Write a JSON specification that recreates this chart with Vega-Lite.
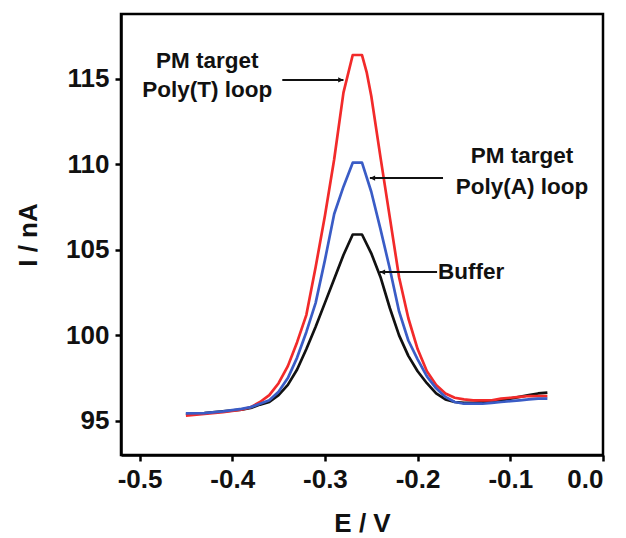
{
  "$schema": "https://vega.github.io/schema/vega-lite/v6.json",
  "autosize": "none",
  "width": 482,
  "height": 441,
  "padding": {"left": 121, "top": 14, "right": 23, "bottom": 83},
  "background": "white",
  "config": {
    "view": {"stroke": "black", "strokeWidth": 2.5},
    "font": "Liberation Sans",
    "axis": {
      "grid": false,
      "domainColor": "black",
      "domainWidth": 2.5,
      "tickColor": "black",
      "tickWidth": 2.5,
      "tickSize": 6,
      "labelFont": "Liberation Sans",
      "labelFontWeight": "bold",
      "labelFontSize": 26,
      "labelColor": "#111",
      "titleFont": "Liberation Sans",
      "titleFontWeight": "bold",
      "titleFontSize": 26,
      "titleColor": "#111"
    }
  },
  "datasets": {
    "curves": [
      {"E": -0.45, "I": 95.4, "s": "Buffer"},
      {"E": -0.43, "I": 95.45, "s": "Buffer"},
      {"E": -0.41, "I": 95.55, "s": "Buffer"},
      {"E": -0.39, "I": 95.65, "s": "Buffer"},
      {"E": -0.38, "I": 95.75, "s": "Buffer"},
      {"E": -0.37, "I": 95.95, "s": "Buffer"},
      {"E": -0.36, "I": 96.1, "s": "Buffer"},
      {"E": -0.35, "I": 96.5, "s": "Buffer"},
      {"E": -0.34, "I": 97.1, "s": "Buffer"},
      {"E": -0.33, "I": 98.0, "s": "Buffer"},
      {"E": -0.32, "I": 99.2, "s": "Buffer"},
      {"E": -0.31, "I": 100.5, "s": "Buffer"},
      {"E": -0.30, "I": 101.9, "s": "Buffer"},
      {"E": -0.29, "I": 103.3, "s": "Buffer"},
      {"E": -0.28, "I": 104.7, "s": "Buffer"},
      {"E": -0.27, "I": 105.9, "s": "Buffer"},
      {"E": -0.26, "I": 105.9, "s": "Buffer"},
      {"E": -0.25, "I": 104.8, "s": "Buffer"},
      {"E": -0.24, "I": 103.4, "s": "Buffer"},
      {"E": -0.23, "I": 101.6, "s": "Buffer"},
      {"E": -0.22, "I": 100.0, "s": "Buffer"},
      {"E": -0.21, "I": 98.8, "s": "Buffer"},
      {"E": -0.20, "I": 97.9, "s": "Buffer"},
      {"E": -0.19, "I": 97.2, "s": "Buffer"},
      {"E": -0.18, "I": 96.6, "s": "Buffer"},
      {"E": -0.17, "I": 96.25, "s": "Buffer"},
      {"E": -0.16, "I": 96.1, "s": "Buffer"},
      {"E": -0.15, "I": 96.05, "s": "Buffer"},
      {"E": -0.14, "I": 96.05, "s": "Buffer"},
      {"E": -0.13, "I": 96.1, "s": "Buffer"},
      {"E": -0.12, "I": 96.1, "s": "Buffer"},
      {"E": -0.11, "I": 96.2, "s": "Buffer"},
      {"E": -0.10, "I": 96.3, "s": "Buffer"},
      {"E": -0.09, "I": 96.4, "s": "Buffer"},
      {"E": -0.08, "I": 96.5, "s": "Buffer"},
      {"E": -0.07, "I": 96.6, "s": "Buffer"},
      {"E": -0.06, "I": 96.65, "s": "Buffer"},

      {"E": -0.45, "I": 95.3, "s": "PolyT"},
      {"E": -0.43, "I": 95.4, "s": "PolyT"},
      {"E": -0.41, "I": 95.5, "s": "PolyT"},
      {"E": -0.39, "I": 95.65, "s": "PolyT"},
      {"E": -0.38, "I": 95.8, "s": "PolyT"},
      {"E": -0.37, "I": 96.1, "s": "PolyT"},
      {"E": -0.36, "I": 96.5, "s": "PolyT"},
      {"E": -0.35, "I": 97.2, "s": "PolyT"},
      {"E": -0.34, "I": 98.2, "s": "PolyT"},
      {"E": -0.33, "I": 99.6, "s": "PolyT"},
      {"E": -0.32, "I": 101.2, "s": "PolyT"},
      {"E": -0.31, "I": 104.0, "s": "PolyT"},
      {"E": -0.30, "I": 107.0, "s": "PolyT"},
      {"E": -0.29, "I": 110.3, "s": "PolyT"},
      {"E": -0.28, "I": 114.2, "s": "PolyT"},
      {"E": -0.27, "I": 116.4, "s": "PolyT"},
      {"E": -0.26, "I": 116.4, "s": "PolyT"},
      {"E": -0.255, "I": 115.4, "s": "PolyT"},
      {"E": -0.25, "I": 114.0, "s": "PolyT"},
      {"E": -0.24, "I": 110.4, "s": "PolyT"},
      {"E": -0.23, "I": 106.9, "s": "PolyT"},
      {"E": -0.22, "I": 103.4, "s": "PolyT"},
      {"E": -0.21, "I": 101.0, "s": "PolyT"},
      {"E": -0.20, "I": 99.2, "s": "PolyT"},
      {"E": -0.19, "I": 97.9, "s": "PolyT"},
      {"E": -0.18, "I": 97.1, "s": "PolyT"},
      {"E": -0.17, "I": 96.6, "s": "PolyT"},
      {"E": -0.16, "I": 96.35, "s": "PolyT"},
      {"E": -0.15, "I": 96.25, "s": "PolyT"},
      {"E": -0.14, "I": 96.2, "s": "PolyT"},
      {"E": -0.13, "I": 96.2, "s": "PolyT"},
      {"E": -0.12, "I": 96.2, "s": "PolyT"},
      {"E": -0.11, "I": 96.3, "s": "PolyT"},
      {"E": -0.10, "I": 96.35, "s": "PolyT"},
      {"E": -0.09, "I": 96.4, "s": "PolyT"},
      {"E": -0.08, "I": 96.45, "s": "PolyT"},
      {"E": -0.07, "I": 96.45, "s": "PolyT"},
      {"E": -0.06, "I": 96.45, "s": "PolyT"},

      {"E": -0.45, "I": 95.43, "s": "PolyA"},
      {"E": -0.43, "I": 95.45, "s": "PolyA"},
      {"E": -0.41, "I": 95.55, "s": "PolyA"},
      {"E": -0.39, "I": 95.7, "s": "PolyA"},
      {"E": -0.38, "I": 95.8, "s": "PolyA"},
      {"E": -0.37, "I": 96.0, "s": "PolyA"},
      {"E": -0.36, "I": 96.2, "s": "PolyA"},
      {"E": -0.35, "I": 96.7, "s": "PolyA"},
      {"E": -0.34, "I": 97.5, "s": "PolyA"},
      {"E": -0.33, "I": 98.7, "s": "PolyA"},
      {"E": -0.32, "I": 100.2, "s": "PolyA"},
      {"E": -0.31, "I": 101.9, "s": "PolyA"},
      {"E": -0.30, "I": 104.4, "s": "PolyA"},
      {"E": -0.29, "I": 107.1, "s": "PolyA"},
      {"E": -0.28, "I": 108.7, "s": "PolyA"},
      {"E": -0.27, "I": 110.1, "s": "PolyA"},
      {"E": -0.26, "I": 110.1, "s": "PolyA"},
      {"E": -0.25, "I": 108.4, "s": "PolyA"},
      {"E": -0.24, "I": 106.2, "s": "PolyA"},
      {"E": -0.23, "I": 103.9, "s": "PolyA"},
      {"E": -0.22, "I": 101.4, "s": "PolyA"},
      {"E": -0.21, "I": 99.7, "s": "PolyA"},
      {"E": -0.20, "I": 98.6, "s": "PolyA"},
      {"E": -0.19, "I": 97.6, "s": "PolyA"},
      {"E": -0.18, "I": 96.9, "s": "PolyA"},
      {"E": -0.17, "I": 96.4, "s": "PolyA"},
      {"E": -0.16, "I": 96.1, "s": "PolyA"},
      {"E": -0.15, "I": 96.0, "s": "PolyA"},
      {"E": -0.14, "I": 96.0, "s": "PolyA"},
      {"E": -0.13, "I": 96.0, "s": "PolyA"},
      {"E": -0.12, "I": 96.05, "s": "PolyA"},
      {"E": -0.11, "I": 96.1, "s": "PolyA"},
      {"E": -0.10, "I": 96.15, "s": "PolyA"},
      {"E": -0.09, "I": 96.2, "s": "PolyA"},
      {"E": -0.08, "I": 96.25, "s": "PolyA"},
      {"E": -0.07, "I": 96.3, "s": "PolyA"},
      {"E": -0.06, "I": 96.3, "s": "PolyA"}
    ],
    "labels": [
      {"E": -0.427, "I": 115.64, "label": "PM target", "a": "center"},
      {"E": -0.427, "I": 113.92, "label": "Poly(T) loop", "a": "center"},
      {"E": -0.0874, "I": 110.09, "label": "PM target", "a": "center"},
      {"E": -0.0874, "I": 108.27, "label": "Poly(A) loop", "a": "center"},
      {"E": -0.178, "I": 103.3, "label": "Buffer", "a": "left"}
    ],
    "arrows": [
      {"E1": -0.346, "E2": -0.28, "I": 114.94, "dir": "right", "tip": -0.28},
      {"E1": -0.2515, "E2": -0.1726, "I": 109.2, "dir": "left", "tip": -0.2515},
      {"E1": -0.2407, "E2": -0.179, "I": 103.7, "dir": "left", "tip": -0.2407}
    ]
  },
  "layer": [
    {
      "data": {"name": "curves"},
      "mark": {"type": "line", "strokeWidth": 2.7, "strokeJoin": "round"},
      "encoding": {
        "x": {
          "field": "E", "type": "quantitative",
          "scale": {"domain": [-0.52, 0], "nice": false, "zero": false},
          "axis": {"title": "E / V", "values": [-0.5, -0.4, -0.3, -0.2, -0.1, 0.0], "labelExpr": "datum.value < 0 ? '-' + format(-datum.value, '.1f') : format(datum.value, '.1f')", "labelPadding": 5, "titlePadding": 18}
        },
        "y": {
          "field": "I", "type": "quantitative",
          "scale": {"domain": [93, 118.8], "nice": false, "zero": false},
          "axis": {"title": "I / nA", "values": [95, 100, 105, 110, 115], "labelPadding": 6, "titlePadding": 24}
        },
        "color": {
          "field": "s", "type": "nominal",
          "scale": {"domain": ["Buffer", "PolyT", "PolyA"], "range": ["#111111", "#F22A2A", "#3A5CC6"]},
          "legend": null
        },
        "order": {"field": "E", "type": "quantitative"}
      }
    },
    {
      "data": {"name": "arrows"},
      "mark": {"type": "rule", "color": "#111", "strokeWidth": 2},
      "encoding": {
        "x": {"field": "E1", "type": "quantitative"},
        "x2": {"field": "E2"},
        "y": {"field": "I", "type": "quantitative"}
      }
    },
    {
      "data": {"name": "arrows"},
      "transform": [{"filter": "datum.dir == 'right'"}],
      "mark": {"type": "point", "shape": "M-1,-0.5L0,0L-1,0.5Z", "filled": true, "color": "#111", "size": 110, "opacity": 1},
      "encoding": {
        "x": {"field": "tip", "type": "quantitative"},
        "y": {"field": "I", "type": "quantitative"}
      }
    },
    {
      "data": {"name": "arrows"},
      "transform": [{"filter": "datum.dir == 'left'"}],
      "mark": {"type": "point", "shape": "M1,-0.5L0,0L1,0.5Z", "filled": true, "color": "#111", "size": 110, "opacity": 1},
      "encoding": {
        "x": {"field": "tip", "type": "quantitative"},
        "y": {"field": "I", "type": "quantitative"}
      }
    },
    {
      "data": {"name": "labels"},
      "transform": [{"filter": "datum.a == 'center'"}],
      "mark": {"type": "text", "font": "Liberation Sans", "fontWeight": "bold", "fontSize": 22.5, "color": "#111", "align": "center", "baseline": "alphabetic"},
      "encoding": {
        "x": {"field": "E", "type": "quantitative"},
        "y": {"field": "I", "type": "quantitative"},
        "text": {"field": "label"}
      }
    },
    {
      "data": {"name": "labels"},
      "transform": [{"filter": "datum.a == 'left'"}],
      "mark": {"type": "text", "font": "Liberation Sans", "fontWeight": "bold", "fontSize": 22.5, "color": "#111", "align": "left", "baseline": "alphabetic"},
      "encoding": {
        "x": {"field": "E", "type": "quantitative"},
        "y": {"field": "I", "type": "quantitative"},
        "text": {"field": "label"}
      }
    }
  ]
}
